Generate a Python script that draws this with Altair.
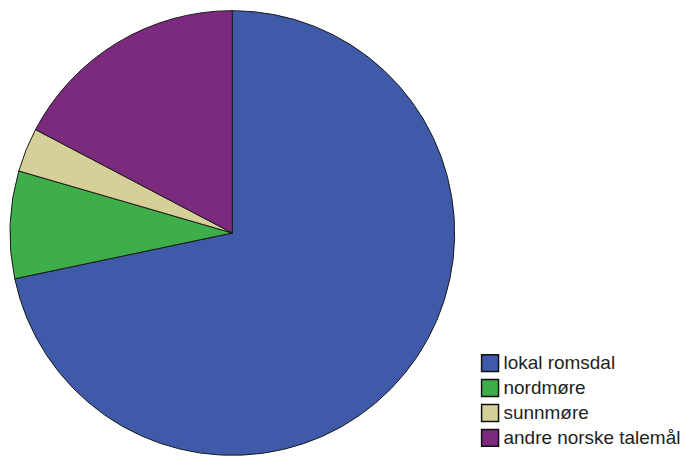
import altair as alt
import pandas as pd

categories = ["lokal romsdal", "nordmøre", "sunnmøre", "andre norske talemål"]
values = [71.7, 7.8, 3.2, 17.3]
colors = ["#3F5AA8", "#3DAE4A", "#D6CF98", "#7B2A7E"]

df = pd.DataFrame({"kategori": categories, "andel": values, "rekke": list(range(len(categories)))})

chart = alt.Chart(df).mark_arc(radius=223, stroke="#1a1a1a", strokeWidth=1).encode(
    theta=alt.Theta("andel:Q", stack=True),
    order=alt.Order("rekke:Q"),
    x=alt.value(223),
    y=alt.value(222),
    color=alt.Color(
        "kategori:N",
        scale=alt.Scale(domain=categories, range=colors),
        legend=alt.Legend(
            title=None,
            orient="none",
            legendX=472,
            legendY=343,
            symbolType="square",
            symbolSize=289,
            symbolStrokeColor="#111",
            symbolStrokeWidth=1.5,
            labelFont="Liberation Sans",
            labelFontSize=19,
            labelColor="#222",
            labelOffset=4,
            rowPadding=2,
            labelLimit=300,
        ),
    ),
).properties(width=675, height=444, padding=0).configure_view(stroke=None)

chart.save("out.html", embed_options={"renderer": "svg", "actions": False})
